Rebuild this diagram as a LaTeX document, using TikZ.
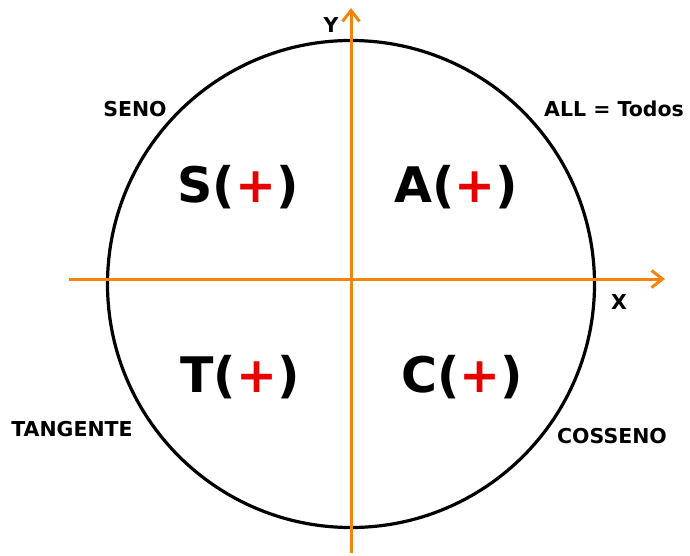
\documentclass[tikz,border=0pt]{standalone}
\usepackage{fontspec}
\setmainfont{DejaVu Sans}
\usetikzlibrary{arrows.meta}
\definecolor{axisorange}{RGB}{242,133,10}
\definecolor{plusred}{RGB}{232,0,0}
\tikzset{
  axis/.style={line width=3pt, axisorange, -{Straight Barb[length=11pt, width=17pt]}},
  quad/.style={font=\fontsize{49}{53}\selectfont\bfseries, inner sep=0pt},
  tag/.style={font=\fontsize{20.5}{24}\selectfont\bfseries, inner sep=0pt}
}
\begin{document}
\begin{tikzpicture}[x=1pt, y=-1pt]
  \useasboundingbox (0,0) rectangle (690,556);
  \coordinate (O) at (351,284);
  \draw[line width=3.2pt] (O) circle (243.5);
  % axes
  \coordinate (xl) at (69,279);
  \coordinate (xr) at (665,279);
  \coordinate (yb) at (351,553);
  \coordinate (yt) at (351,8);
  \draw[axis] (xl) -- (xr);
  \draw[axis] (yb) -- (yt);
  \node[tag] (ylab) at (331,25) {Y};
  \node[tag] (xlab) at (619,302) {X};
  % quadrant signs
  \foreach \p/\l/\n in {{(238,187)}/S/qs, {(456,187)}/A/qa,
      {(240,377)}/T/qt, {(462,377)}/C/qc} {
    \node[quad] (\n) at \p {\l(\textcolor{plusred}{+})};
  }
  % function names
  \node[tag] (seno) at (135,109) {SENO};
  \node[tag] (todos) at (614,109) {ALL = Todos};
  \node[tag] (tang) at (72,429) {TANGENTE};
  \node[tag] (coss) at (612,436) {COSSENO};
\end{tikzpicture}
\end{document}
